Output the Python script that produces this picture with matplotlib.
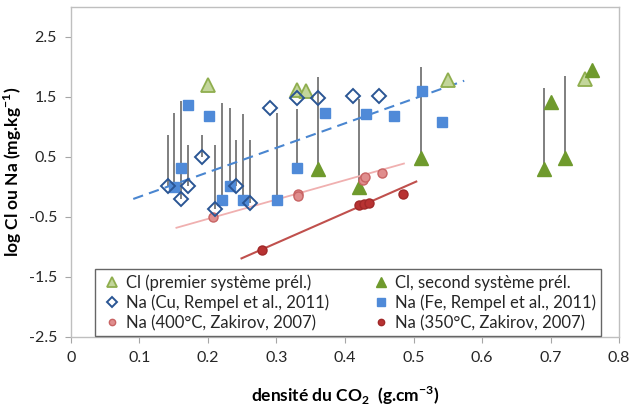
import matplotlib
matplotlib.use("Agg")
import matplotlib.pyplot as plt
import numpy as np

plt.rcParams['font.family'] = ['Lato', 'DejaVu Sans']
plt.rcParams['mathtext.fontset'] = 'custom'
plt.rcParams['mathtext.rm'] = 'Lato'
plt.rcParams['mathtext.bf'] = 'Lato:bold'

# --- data ---
cl1_x = [0.20, 0.33, 0.343, 0.551, 0.750]
cl1_y = [1.70, 1.62, 1.60, 1.78, 1.80]

cl2_x = [0.361, 0.421, 0.511, 0.690, 0.701, 0.721, 0.761]
cl2_y = [0.30, 0.00, 0.48, 0.30, 1.42, 0.48, 1.95]

cu_x = [0.141, 0.161, 0.171, 0.192, 0.211, 0.241, 0.261, 0.291, 0.330, 0.361, 0.411, 0.450]
cu_y = [0.02, -0.20, 0.02, 0.50, -0.37, 0.02, -0.27, 1.31, 1.48, 1.49, 1.51, 1.52]

fe_x = [0.151, 0.161, 0.171, 0.201, 0.221, 0.232, 0.251, 0.301, 0.330, 0.371, 0.431, 0.471, 0.512, 0.541]
fe_y = [0.00, 0.31, 1.36, 1.19, -0.21, 0.02, -0.21, -0.21, 0.31, 1.24, 1.22, 1.19, 1.60, 1.09]

na400_x = [0.208, 0.331, 0.331, 0.427, 0.429, 0.454]
na400_y = [-0.50, -0.12, -0.15, 0.11, 0.16, 0.24]

na350_x = [0.279, 0.420, 0.428, 0.435, 0.484]
na350_y = [-1.05, -0.30, -0.29, -0.27, -0.12]

# vertical range lines: x, low, high
rng_x = [0.141, 0.151, 0.161, 0.171, 0.192, 0.211, 0.221, 0.232, 0.241, 0.251, 0.261, 0.301, 0.330, 0.361, 0.421, 0.511, 0.690, 0.721]
rng_lo = [0.02, 0.00, -0.20, 0.02, 0.50, -0.37, -0.21, 0.02, 0.02, -0.21, -0.27, -0.21, 0.31, 0.30, 0.00, 0.48, 0.30, 0.48]
rng_hi = [0.87, 1.23, 1.44, 0.70, 0.87, 0.70, 1.40, 1.31, 0.79, 1.21, 0.79, 1.23, 1.30, 1.83, 1.47, 2.00, 1.65, 1.85]

# trend lines (endpoints)
trend_blue_x = [0.091, 0.574]
trend_blue_y = [-0.20, 1.77]
trend_pink_x = [0.154, 0.486]
trend_pink_y = [-0.68, 0.39]
trend_red_x = [0.249, 0.504]
trend_red_y = [-1.19, 0.09]

xticks = [0, 0.1, 0.2, 0.3, 0.4, 0.5, 0.6, 0.7, 0.8]
yticks = [-2.5, -1.5, -0.5, 0.5, 1.5, 2.5]

fig = plt.figure(figsize=(6.33, 4.07), dpi=100)
ax = fig.add_axes([0.112, 0.172, 0.866, 0.811])

ax.vlines(rng_x, rng_lo, rng_hi, colors='#7f7f7f', linewidth=1.4, zorder=2)

ax.plot(trend_blue_x, trend_blue_y, color='#4a86d0', linestyle=(0, (5, 3)), linewidth=1.5, zorder=3)
ax.plot(trend_pink_x, trend_pink_y, color='#f0b0b0', linewidth=1.3, zorder=3)
ax.plot(trend_red_x, trend_red_y, color='#c0504d', linewidth=1.5, zorder=3)

h1, = ax.plot(cl1_x, cl1_y, linestyle='none', marker='^', markersize=9.5,
              markerfacecolor='#c3d69b', markeredgecolor='#8fae4e', markeredgewidth=1.3, zorder=4)
h2, = ax.plot(cl2_x, cl2_y, linestyle='none', marker='^', markersize=9.5,
              markerfacecolor='#6f9a2d', markeredgecolor='#6f9a2d', zorder=4)
h3, = ax.plot(cu_x, cu_y, linestyle='none', marker='D', markersize=7.5,
              markerfacecolor='none', markeredgecolor='#2a5594', markeredgewidth=1.4, zorder=5)
h4, = ax.plot(fe_x, fe_y, linestyle='none', marker='s', markersize=7.5,
              markerfacecolor='#4f8ad8', markeredgecolor='#4f8ad8', zorder=4)
h5, = ax.plot(na400_x, na400_y, linestyle='none', marker='o', markersize=6.5,
              markerfacecolor='#e08e8e', markeredgecolor='#c86464', markeredgewidth=1.0, zorder=4)
h6, = ax.plot(na350_x, na350_y, linestyle='none', marker='o', markersize=6.5,
              markerfacecolor='#b83232', markeredgecolor='#a02828', markeredgewidth=1.0, zorder=4)

ax.set_xlim(0, 0.8)
ax.set_ylim(-2.5, 3.0)
ax.set_xticks(xticks)
ax.set_xticklabels(['0', '0.1', '0.2', '0.3', '0.4', '0.5', '0.6', '0.7', '0.8'])
ax.set_yticks(yticks)
ax.set_yticklabels(['-2.5', '-1.5', '-0.5', '0.5', '1.5', '2.5'])
ax.tick_params(axis='both', direction='out', length=4, width=0.8, color='#a6a6a6',
               labelsize=11.5, labelcolor='#262626', pad=6)
for s in ax.spines.values():
    s.set_color('#bfbfbf')
    s.set_linewidth(1.0)

ax.set_xlabel(r'densité du CO$_{\mathbf{2}}$  (g.cm$^{\mathbf{-3}}$)', fontsize=12.5,
              fontweight='bold', labelpad=14)
ax.set_ylabel(r'log Cl ou Na (mg.kg$^{\mathbf{-1}}$)', fontsize=12.5,
              fontweight='bold')
ax.yaxis.set_label_coords(-0.085, 0.5)

labels = ['Cl (premier système prél.)', 'Na (Cu, Rempel et al., 2011)',
          'Na (400°C, Zakirov, 2007)', 'Cl, second système prél.',
          'Na (Fe, Rempel et al., 2011)', 'Na (350°C, Zakirov, 2007)']
leg = ax.legend([h1, h3, h5, h2, h4, h6], labels,
                ncol=2, loc='lower center', bbox_to_anchor=(0.505, 0.003),
                fontsize=12, frameon=True, fancybox=False, edgecolor='#404040',
                handlelength=1.5, handletextpad=0.05, columnspacing=2.4,
                labelspacing=0.22, borderpad=0.3, borderaxespad=0.0, markerscale=0.7)
leg.get_frame().set_linewidth(1.0)
for t in leg.get_texts():
    t.set_color('#262626')

fig.savefig('out.png', dpi=100)
